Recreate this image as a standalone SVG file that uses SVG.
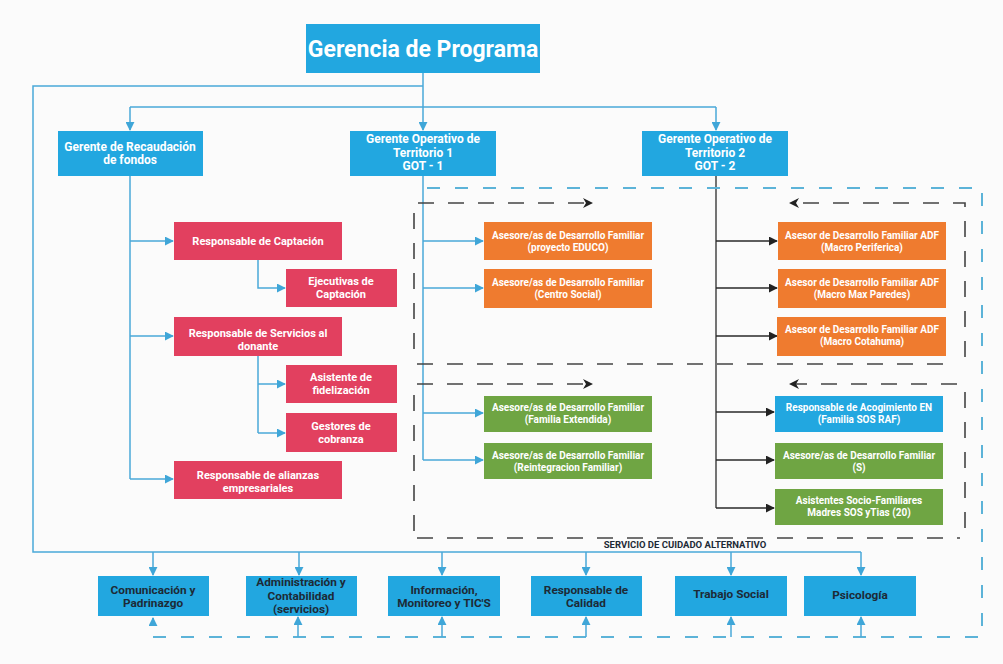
<svg xmlns="http://www.w3.org/2000/svg" width="1003" height="664" viewBox="0 0 1003 664">
<defs>
<marker id="ab" viewBox="0 0 10 10" refX="9" refY="5" markerWidth="9" markerHeight="9" markerUnits="userSpaceOnUse" orient="auto"><path d="M0,0 L10,5 L0,10 z" fill="#3fa6d8"/></marker>
<marker id="ak" viewBox="0 0 10 10" refX="9" refY="5" markerWidth="9" markerHeight="9" markerUnits="userSpaceOnUse" orient="auto"><path d="M0,0 L10,5 L0,10 z" fill="#222"/></marker>
<marker id="ad" viewBox="0 0 10 10" refX="9" refY="5" markerWidth="10" markerHeight="10" markerUnits="userSpaceOnUse" orient="auto"><path d="M0,0 L10,5 L0,10 L3,5 z" fill="#222"/></marker>
</defs>
<style>
text{font-family:Roboto,"Liberation Sans",Arial,sans-serif;font-weight:700;text-anchor:middle}
.bl{fill:#22a7e0}
.rd{fill:#e2405f}
.or{fill:#ef7b2f}
.gr{fill:#6fa543}
.w{fill:#fff}
.dk{fill:#1d2a36}
.cb{fill:none;stroke:#4aa9d9;stroke-width:1.5}
.ck{fill:none;stroke:#2a2a2a;stroke-width:1.3}
.db{fill:none;stroke:#5cb3d8;stroke-width:2;stroke-dasharray:13 15}
.dd{fill:none;stroke:#444;stroke-width:1.6;stroke-dasharray:16 14}
.t12{font-size:12px}
.t11{font-size:11px}
.t10{font-size:10px}
.tb{font-size:11.8px}
</style>
<rect width="1003" height="664" fill="#fbfbfb"/>

<g id="connectors">
<path class="cb" d="M423,73 V130" marker-end="url(#ab)"/>
<path class="cb" d="M423,86 H33 V552 H861"/>
<path class="cb" d="M153,552 V575" marker-end="url(#ab)"/>
<path class="cb" d="M299,552 V575" marker-end="url(#ab)"/>
<path class="cb" d="M442,552 V575" marker-end="url(#ab)"/>
<path class="cb" d="M586,552 V575" marker-end="url(#ab)"/>
<path class="cb" d="M731,552 V575" marker-end="url(#ab)"/>
<path class="cb" d="M861,552 V575" marker-end="url(#ab)"/>
<path class="cb" d="M130,107 H716"/>
<path class="cb" d="M130,107 V130" marker-end="url(#ab)"/>
<path class="cb" d="M716,107 V130" marker-end="url(#ab)"/>
<path class="cb" d="M130,176 V479"/>
<path class="cb" d="M130,241 H173" marker-end="url(#ab)"/>
<path class="cb" d="M130,336 H173" marker-end="url(#ab)"/>
<path class="cb" d="M130,479 H173" marker-end="url(#ab)"/>
<path class="cb" d="M258,260 V288 H285" marker-end="url(#ab)"/>
<path class="cb" d="M258,356 V433"/>
<path class="cb" d="M258,384 H285" marker-end="url(#ab)"/>
<path class="cb" d="M258,433 H285" marker-end="url(#ab)"/>
<path class="cb" d="M423,176 V460"/>
<path class="cb" d="M423,241 H483" marker-end="url(#ab)"/>
<path class="cb" d="M423,288 H483" marker-end="url(#ab)"/>
<path class="cb" d="M423,413 H483" marker-end="url(#ab)"/>
<path class="cb" d="M423,460 H483" marker-end="url(#ab)"/>
<path class="ck" d="M716,176 V508"/>
<path class="ck" d="M716,241 H777" marker-end="url(#ak)"/>
<path class="ck" d="M716,288 H777" marker-end="url(#ak)"/>
<path class="ck" d="M716,336 H777" marker-end="url(#ak)"/>
<path class="ck" d="M716,412 H774" marker-end="url(#ak)"/>
<path class="ck" d="M716,460 H774" marker-end="url(#ak)"/>
<path class="ck" d="M716,508 H774" marker-end="url(#ak)"/>
<path class="db" d="M427,188 H982 V637 H153 V618" marker-end="url(#ab)"/>
<path class="cb" d="M298,637 V617" marker-end="url(#ab)"/>
<path class="cb" d="M442,637 V617" marker-end="url(#ab)"/>
<path class="cb" d="M586,637 V617" marker-end="url(#ab)"/>
<path class="cb" d="M731,637 V617" marker-end="url(#ab)"/>
<path class="cb" d="M861,637 V617" marker-end="url(#ab)"/>
<path class="dd" d="M418,203 H592" marker-end="url(#ad)"/>
<path class="dd" d="M965,357 V203 H790" marker-end="url(#ad)"/>
<path class="dd" d="M414,213 V357"/>
<path class="dd" d="M417,364 H957"/>
<path class="dd" d="M417,384 H592" marker-end="url(#ad)"/>
<path class="dd" d="M957,384 H790" marker-end="url(#ad)"/>
<path class="dd" d="M965,392 V528"/>
<path class="dd" d="M414,395 V535"/>
<path class="dd" d="M417,538 H960"/>
<text x="685" y="548" class="dk" style="font-size:9.5px">SERVICIO DE CUIDADO ALTERNATIVO</text>
</g>

<g id="gerencia"><rect class="bl" x="306" y="24" width="234" height="49"/><text x="423" y="57" class="w" style="font-size:23px">Gerencia de Programa</text></g>

<g id="recaudacion"><rect class="bl" x="58" y="131" width="145" height="45"/><text x="130" y="151" class="w t12">Gerente de Recaudación</text><text x="130" y="164" class="w t12">de fondos</text></g>
<g id="got1"><rect class="bl" x="350" y="131" width="146" height="45"/><text x="423" y="143" class="w t12">Gerente Operativo de</text><text x="423" y="157" class="w t12">Territorio 1</text><text x="423" y="170" class="w t12">GOT - 1</text></g>
<g id="got2"><rect class="bl" x="642" y="131" width="146" height="45"/><text x="715" y="143" class="w t12">Gerente Operativo de</text><text x="715" y="157" class="w t12">Territorio 2</text><text x="715" y="170" class="w t12">GOT - 2</text></g>

<g id="captacion"><rect class="rd" x="174" y="222" width="168" height="38"/><text x="258" y="245" class="w t11">Responsable de Captación</text></g>
<g id="ejecutivas"><rect class="rd" x="286" y="269" width="111" height="38"/><text x="341" y="285" class="w t11">Ejecutivas de</text><text x="341" y="298" class="w t11">Captación</text></g>
<g id="servicios"><rect class="rd" x="174" y="317" width="168" height="39"/><text x="258" y="337" class="w t11">Responsable de Servicios al</text><text x="258" y="350" class="w t11">donante</text></g>
<g id="fidelizacion"><rect class="rd" x="286" y="365" width="111" height="38"/><text x="341" y="381" class="w t11">Asistente de</text><text x="341" y="394" class="w t11">fidelización</text></g>
<g id="cobranza"><rect class="rd" x="286" y="413" width="111" height="39"/><text x="341" y="430" class="w t11">Gestores de</text><text x="341" y="443" class="w t11">cobranza</text></g>
<g id="alianzas"><rect class="rd" x="174" y="461" width="168" height="38"/><text x="258" y="479" class="w t11">Responsable de alianzas</text><text x="258" y="492" class="w t11">empresariales</text></g>

<g id="educo"><rect class="or" x="484" y="222" width="168" height="38"/><text x="568" y="238.5" class="w t10">Asesore/as de Desarrollo Familiar</text><text x="568" y="250.5" class="w t10">(proyecto EDUCO)</text></g>
<g id="centro"><rect class="or" x="484" y="269" width="168" height="39"/><text x="568" y="286" class="w t10">Asesore/as de Desarrollo Familiar</text><text x="568" y="298" class="w t10">(Centro Social)</text></g>
<g id="extendida"><rect class="gr" x="484" y="396" width="168" height="36"/><text x="568" y="411" class="w t10">Asesore/as de Desarrollo Familiar</text><text x="568" y="423" class="w t10">(Familia Extendida)</text></g>
<g id="reintegracion"><rect class="gr" x="484" y="443" width="168" height="36"/><text x="568" y="459" class="w t10">Asesore/as de Desarrollo Familiar</text><text x="568" y="471" class="w t10">(Reintegracion Familiar)</text></g>

<g id="periferica"><rect class="or" x="778" y="222" width="168" height="38"/><text x="862" y="238.5" class="w t10">Asesor de Desarrollo Familiar ADF</text><text x="862" y="250.5" class="w t10">(Macro Periferica)</text></g>
<g id="maxparedes"><rect class="or" x="778" y="269" width="168" height="39"/><text x="862" y="286" class="w t10">Asesor de Desarrollo Familiar ADF</text><text x="862" y="298" class="w t10">(Macro Max Paredes)</text></g>
<g id="cotahuma"><rect class="or" x="777" y="317" width="169" height="39"/><text x="862" y="333" class="w t10">Asesor de Desarrollo Familiar ADF</text><text x="862" y="345" class="w t10">(Macro Cotahuma)</text></g>
<g id="acogimiento"><rect class="bl" x="775" y="396" width="168" height="36"/><text x="859" y="411" class="w t10">Responsable de Acogimiento EN</text><text x="859" y="423" class="w t10">(Familia SOS RAF)</text></g>
<g id="asesores-s"><rect class="gr" x="775" y="443" width="168" height="36"/><text x="859" y="459" class="w t10">Asesore/as de Desarrollo Familiar</text><text x="859" y="471" class="w t10">(S)</text></g>
<g id="asistentes"><rect class="gr" x="775" y="489" width="168" height="36"/><text x="859" y="504" class="w t10">Asistentes Socio-Familiares</text><text x="859" y="516" class="w t10">Madres SOS yTias (20)</text></g>

<g id="comunicacion"><rect class="bl" x="98" y="576" width="111" height="40"/><text x="153" y="594" class="dk tb">Comunicación y</text><text x="153" y="607" class="dk tb">Padrinazgo</text></g>
<g id="administracion"><rect class="bl" x="246" y="576" width="111" height="40"/><text x="301" y="586" class="dk tb">Administración y</text><text x="301" y="600" class="dk tb">Contabilidad</text><text x="301" y="613" class="dk tb">(servicios)</text></g>
<g id="informacion"><rect class="bl" x="388" y="576" width="112" height="40"/><text x="444" y="594" class="dk tb">Información,</text><text x="444" y="607" class="dk tb">Monitoreo y TIC'S</text></g>
<g id="calidad"><rect class="bl" x="531" y="576" width="111" height="40"/><text x="586" y="594" class="dk tb">Responsable de</text><text x="586" y="607" class="dk tb">Calidad</text></g>
<g id="trabajo"><rect class="bl" x="675" y="576" width="112" height="40"/><text x="731" y="598" class="dk tb">Trabajo Social</text></g>
<g id="psicologia"><rect class="bl" x="804" y="576" width="112" height="40"/><text x="860" y="599" class="dk tb">Psicología</text></g>
</svg>
